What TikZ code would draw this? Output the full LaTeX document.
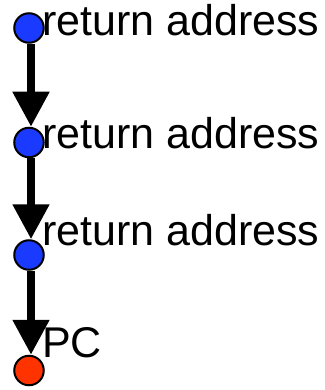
\documentclass[tikz,border=0pt]{standalone}
\usepackage{fontspec}
\setmainfont{Liberation Sans}
\usetikzlibrary{arrows.meta}
\definecolor{dotblue}{RGB}{26,58,255}
\definecolor{dotred}{RGB}{255,51,0}
\tikzset{
  dot/.style={circle, draw=black, line width=2pt, minimum size=29.5pt, inner sep=0pt},
  lbl/.style={anchor=base west, inner sep=0pt, font=\fontsize{43}{50}\selectfont},
  link/.style={line width=8pt, -{Triangle[width=35pt,length=35pt]}}
}
\begin{document}
\begin{tikzpicture}[x=1pt,y=-1pt]
\useasboundingbox (0,0) rectangle (324,390);
\node[dot, fill=dotblue] (c1) at (29,28) {};
\node[dot, fill=dotblue] (c2) at (29,142.5) {};
\node[dot, fill=dotblue] (c3) at (29,255) {};
\node[dot, fill=dotred] (c4) at (29,370.5) {};
\draw[link] ([xshift=2pt]c1.south) -- ([xshift=2pt]c2.north);
\draw[link] ([xshift=2pt]c2.south) -- ([xshift=2pt]c3.north);
\draw[link] ([xshift=2pt]c3.south) -- ([xshift=2pt]c4.north);
\node[lbl] (t1) at (42,36) {return address};
\node[lbl] (t2) at (42,149) {return address};
\node[lbl] (t3) at (42,245) {return address};
\node[lbl] (t4) at (42,357) {PC};
\end{tikzpicture}
\end{document}
